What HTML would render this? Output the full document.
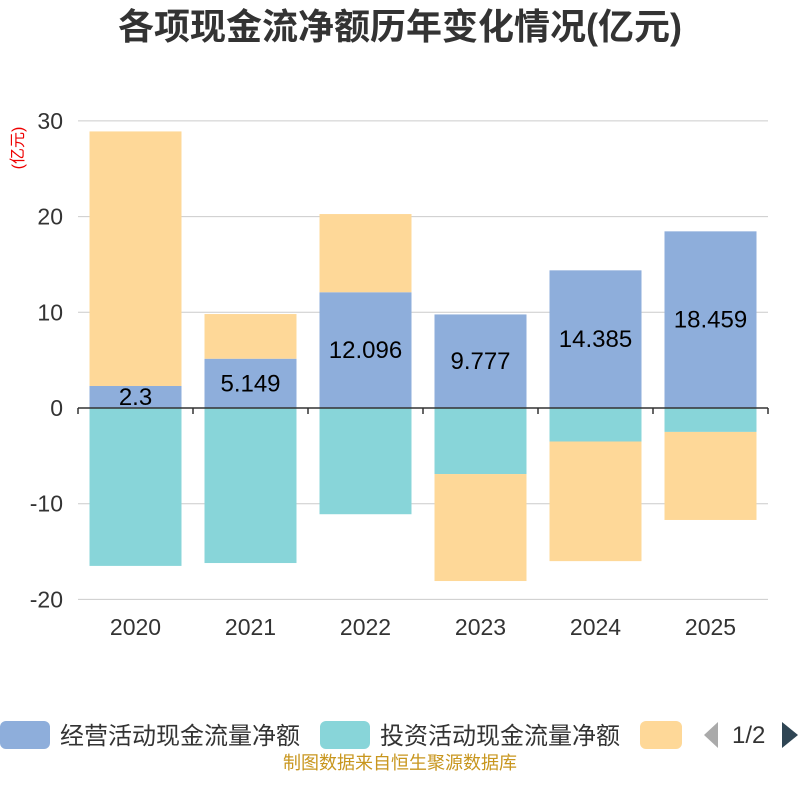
<!DOCTYPE html>
<html><head><meta charset="utf-8">
<style>
html,body{margin:0;padding:0;background:#fff;}
body{width:800px;height:800px;overflow:hidden;font-family:"Liberation Sans","Noto Sans CJK SC",sans-serif;}
</style></head>
<body>
<svg id="chart" width="800" height="800" xmlns="http://www.w3.org/2000/svg">
<text x="400" y="39" text-anchor="middle" font-size="36" font-weight="bold" fill="#333" font-family="Liberation Sans,Noto Sans CJK SC,sans-serif">各项现金流净额历年变化情况(亿元)</text>
<text transform="translate(23,148) rotate(-90)" text-anchor="middle" font-size="16" fill="#e00" font-family="Liberation Sans,Noto Sans CJK SC,sans-serif">(亿元)</text>
<g id="grid"></g><g id="bars"></g><g id="axes"></g>
<g font-family="Liberation Sans,Noto Sans CJK SC,sans-serif" font-size="24" fill="#333">
 <g><rect x="0" y="721" width="50" height="28" rx="6" fill="#8eaedb"/><text x="60" y="744">经营活动现金流量净额</text></g>
 <g><rect x="320" y="721" width="50" height="28" rx="6" fill="#88d5d9"/><text x="380" y="744">投资活动现金流量净额</text></g>
 <g><rect x="640" y="721" width="42" height="28" rx="6" fill="#fed898"/></g>
 <polygon points="718,722 718,748 704,735" fill="#aaa"/>
 <text x="732" y="743">1/2</text>
 <polygon points="782,722 782,748 798,735" fill="#2f4554"/>
</g>
<text x="400" y="769" text-anchor="middle" font-size="18" fill="#c8961e" font-family="Liberation Sans,Noto Sans CJK SC,sans-serif">制图数据来自恒生聚源数据库</text>
</svg>
<script>
const categories=["2020","2021","2022","2023","2024","2025"];
const operating=[2.3,5.149,12.096,9.777,14.385,18.459];
const investing=[-16.5,-16.2,-11.1,-6.9,-3.5,-2.5];
const financing=[26.6,4.67,8.17,-11.18,-12.5,-9.2];
const yTicks=[30,20,10,0,-10,-20];
const NS="http://www.w3.org/2000/svg";
const x0=78,x1=768,bw=92;
function y(v){return 408-v*9.57;}
function cx(i){return x0+(x1-x0)/categories.length*(i+0.5);}
function mk(tag,attrs,parent){const e=document.createElementNS(NS,tag);for(const k in attrs)e.setAttribute(k,attrs[k]);parent.appendChild(e);return e;}
const grid=document.getElementById('grid'),bars=document.getElementById('bars'),axes=document.getElementById('axes');
yTicks.forEach(t=>{
 const l=mk('line',{x1:x0,x2:x1,y1:y(t),y2:y(t),stroke:'#ccc','stroke-width':1},grid);
 
 
 const tx=mk('text',{x:63,y:y(t)+8,'text-anchor':'end','font-size':23,fill:'#333','font-family':'Liberation Sans,sans-serif'},axes);
 tx.textContent=t;
 
 
});
categories.forEach((c,i)=>{
 let pos=0,neg=0;
 const series=[[operating[i],'#8eaedb','bar-operating'],[investing[i],'#88d5d9','bar-investing'],[financing[i],'#fed898','bar-financing']];
 series.forEach(s=>{
  const v=s[0];let top,bot;
  if(v>=0){bot=pos;top=pos+v;pos=top;}else{top=neg;bot=neg+v;neg=bot;}
  const r=mk('rect',{x:cx(i)-bw/2,y:y(top),width:bw,height:y(bot)-y(top),fill:s[1]},bars);
  
  
 });
 const lb=mk('text',{x:cx(i),y:y(operating[i]/2)+8,'text-anchor':'middle','font-size':24,fill:'#000','font-family':'Liberation Sans,sans-serif'},bars);
 lb.textContent=operating[i];
 
 
 const tx=mk('text',{x:cx(i),y:635,'text-anchor':'middle','font-size':23,fill:'#333','font-family':'Liberation Sans,sans-serif'},axes);
 tx.textContent=c;
 
 
});
const ax=mk('line',{x1:x0,x2:x1,y1:y(0),y2:y(0),stroke:'#333','stroke-width':1.5},axes);


for(let i=0;i<=categories.length;i++){
 const xx=x0+(x1-x0)/categories.length*i;
 const t=mk('line',{x1:xx,x2:xx,y1:y(0),y2:y(0)+6,stroke:'#333','stroke-width':1.5},axes);
 
 
}
</script>
</body></html>
